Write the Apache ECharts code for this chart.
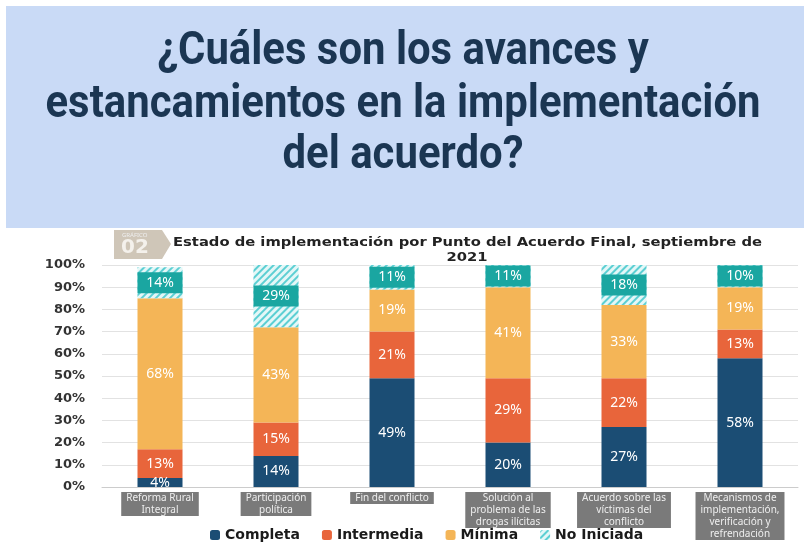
<!DOCTYPE html>
<html>
<head>
<meta charset="utf-8">
<script src="https://cdn.jsdelivr.net/npm/echarts@6/dist/echarts.min.js"></script>
<style>
  html, body { margin: 0; padding: 0; background: #fff; }
  #chart { width: 804px; height: 543px; }
</style>
</head>
<body>
<div id="chart"></div>
<script>
// datos del gráfico
const puntos = [
  'Reforma Rural\nIntegral',
  'Participación\npolítica',
  'Fin del conflicto',
  'Solución al\nproblema de las\ndrogas ilícitas',
  'Acuerdo sobre las\nvíctimas del\nconflicto',
  'Mecanismos de\nimplementación,\nverificación y\nrefrendación'
];
const completa   = [4, 14, 49, 20, 27, 58];
const intermedia = [13, 15, 21, 29, 22, 13];
const minima     = [68, 43, 19, 41, 33, 19];
const noIniciada = [14, 29, 11, 11, 18, 10];

const titulo = ['¿Cuáles son los avances y', 'estancamientos en la implementación', 'del acuerdo?'];
const subtitulo = ['Estado de implementación por Punto del Acuerdo Final, septiembre de', '2021'];

const labelFont = 'Noto Sans';

// medir texto para comprimir la fuente (la original es condensada)
function anchoTexto(txt, font) {
  const ctx = document.createElement('canvas').getContext('2d');
  ctx.font = font;
  return ctx.measureText(txt).width;
}
const fontTitulo = 'bold 46px Roboto';
const escalaTitulo = 715 / anchoTexto(titulo[1], fontTitulo);
const fontSub = 'bold 13px "DejaVu Sans"';
const escalaSub = 589 / anchoTexto(subtitulo[0], fontSub);

function serie(name, data, color, extra) {
  return Object.assign({
    name: name,
    type: 'bar',
    stack: 'total',
    barWidth: 45,
    data: data,
    itemStyle: { color: color },
    label: {
      show: true,
      position: 'inside',
      formatter: '{c}%',
      color: '#fff',
      fontSize: 14,
      fontFamily: labelFont
    }
  }, extra || {});
}

const lineasY = [75, 128, 179];
const tituloGraphic = titulo.map(function (t, i) {
  return {
    type: 'text',
    x: 403,
    y: lineasY[i],
    scaleX: escalaTitulo,
    style: {
      text: t,
      font: fontTitulo,
      fill: '#1b3653',
      textAlign: 'center',
      textVerticalAlign: 'bottom'
    }
  };
});

const myChart = echarts.init(document.getElementById('chart'));

myChart.setOption({
  animation: false,
  graphic: [
    // panel azul del título
    { type: 'rect', x: 6, y: 6, shape: { width: 798, height: 222 }, style: { fill: '#c9daf6' }, z: -1 },
    // etiqueta "GRÁFICO 02"
    {
      type: 'polygon',
      shape: { points: [[114, 230], [162, 230], [171, 244], [162, 259], [114, 259]] },
      style: { fill: '#cfc6b8' }
    },
    { type: 'text', x: 122, y: 232, style: { text: 'GRÁFICO', fontSize: 6, fill: '#eee', fontFamily: labelFont } },
    { type: 'text', x: 121, y: 238, style: { text: '02', fontSize: 20, fontWeight: 'bold', fill: '#f4f1ec', fontFamily: 'DejaVu Sans' } },
    // subtítulo
    {
      type: 'text', x: 173, y: 243, scaleX: escalaSub,
      style: { text: subtitulo[0], font: fontSub, fill: '#222', textAlign: 'left', textVerticalAlign: 'middle' }
    },
    {
      type: 'text', x: 467, y: 258, scaleX: escalaSub,
      style: { text: subtitulo[1], font: fontSub, fill: '#222', textAlign: 'center', textVerticalAlign: 'middle' }
    }
  ].concat(tituloGraphic),
  legend: {
    left: 205,
    top: 523,
    itemWidth: 10,
    itemHeight: 10,
    itemGap: 22,
    textStyle: { fontFamily: 'DejaVu Sans', fontSize: 14, fontWeight: 'bold', color: '#1a1a1a' },
    data: ['Completa', 'Intermedia', 'Mínima', 'No Iniciada']
  },
  grid: { left: 102, right: 6, top: 265, bottom: 56 },
  xAxis: {
    type: 'category',
    data: puntos,
    axisTick: { show: false },
    axisLine: { lineStyle: { color: '#ccc' } },
    axisLabel: {
      interval: 0,
      margin: 5,
      fontSize: 10,
      lineHeight: 12,
      color: '#eee',
      fontFamily: labelFont,
      backgroundColor: '#7a7a7a',
      padding: [0, 5]
    }
  },
  yAxis: {
    type: 'value',
    min: 0,
    max: 100,
    interval: 10,
    axisLine: { show: false },
    axisTick: { show: false },
    splitLine: { lineStyle: { color: '#e2e2e2' } },
    axisLabel: {
      formatter: '{value}%',
      margin: 17,
      fontSize: 13,
      fontWeight: 'bold',
      color: '#333',
      fontFamily: 'DejaVu Sans'
    }
  },
  series: [
    serie('Completa', completa, '#1b4d74'),
    serie('Intermedia', intermedia, '#e8653b'),
    serie('Mínima', minima, '#f4b557'),
    serie('No Iniciada', noIniciada, '#e4f7f7', {
      itemStyle: {
        color: '#e4f7f7',
        decal: {
          symbol: 'rect',
          symbolSize: 1,
          dashArrayX: [[1, 0]],
          dashArrayY: [2, 3],
          rotation: -Math.PI / 4,
          color: '#5ccfd3'
        }
      },
      label: {
        show: true,
        position: 'inside',
        formatter: '{c}%',
        color: '#fff',
        fontSize: 14,
        fontFamily: labelFont,
        backgroundColor: '#1aa6a1',
        width: 45,
        height: 21,
        lineHeight: 21,
        align: 'center'
      }
    })
  ]
});

window.addEventListener('resize', function () {
  myChart.resize();
});
</script>
</body>
</html>
